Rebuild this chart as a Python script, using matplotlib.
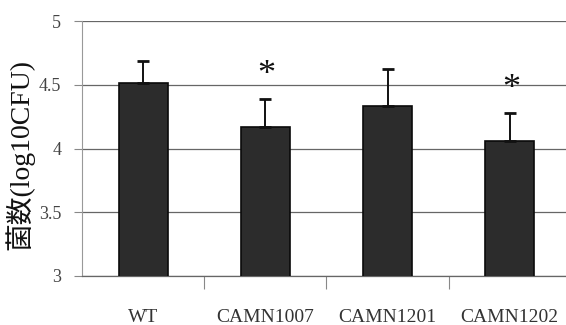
import matplotlib
matplotlib.use("Agg")
import matplotlib.pyplot as plt
import numpy as np

categories = ["WT", "CAMN1007", "CAMN1201", "CAMN1202"]
values = [4.51, 4.17, 4.33, 4.06]
errors = [0.18, 0.22, 0.29, 0.22]
significant = [False, True, False, True]
yticks = [3, 3.5, 4, 4.5, 5]
ytick_labels = ["3", "3.5", "4", "4.5", "5"]
ylabel = "菌数(log10CFU)"

serif = ["Liberation Serif", "Noto Sans CJK JP", "DejaVu Serif"]

fig = plt.figure(figsize=(5.66, 3.25), dpi=100)
ax = fig.add_axes([82/566, 1-276/325, (566-82)/566, (276-21)/325])

x = np.arange(len(categories))
ax.bar(x, values, width=0.4, bottom=0, color="#2c2c2c", edgecolor="#0a0a0a",
       linewidth=1.2, zorder=3)
ax.errorbar(x, values, yerr=[np.zeros(len(errors)), errors], fmt="none",
            ecolor="#111111", elinewidth=1.4, capsize=4, capthick=2.0, zorder=4)

for xi, v, e, s in zip(x, values, errors, significant):
    if s:
        ax.text(xi + 0.01, v + e + 0.05, "*", ha="center", va="bottom",
                fontsize=26, family=serif, color="#111111")

ax.set_ylim(3, 5)
ax.set_xlim(-0.5, 3.46)
ax.set_yticks(yticks)
ax.set_yticklabels(ytick_labels, family=serif, fontsize=13, color="#444444")
ax.set_xticks(x)
ax.set_xticklabels(categories, family=serif, fontsize=14, color="#333333")
ax.tick_params(axis="x", length=0, pad=24)
ax.tick_params(axis="y", length=6, color="#888888", width=0.8, pad=9)
# category boundary ticks
ax.set_xticks([0.5, 1.5, 2.5], minor=True)
ax.tick_params(axis="x", which="minor", length=9, color="#888888", width=0.8)

ax.grid(axis="y", color="#666666", linewidth=0.9, zorder=0)
for side in ["top", "right"]:
    ax.spines[side].set_visible(False)
ax.spines["left"].set_color("#999999")
ax.spines["left"].set_linewidth(0.8)
ax.spines["bottom"].set_color("#666666")
ax.spines["bottom"].set_linewidth(0.9)

ax.set_ylabel(ylabel, family=serif, fontsize=20, color="#111111")
ax.yaxis.set_label_coords(-0.098, 0.475)

fig.savefig("out.png", dpi=100)
